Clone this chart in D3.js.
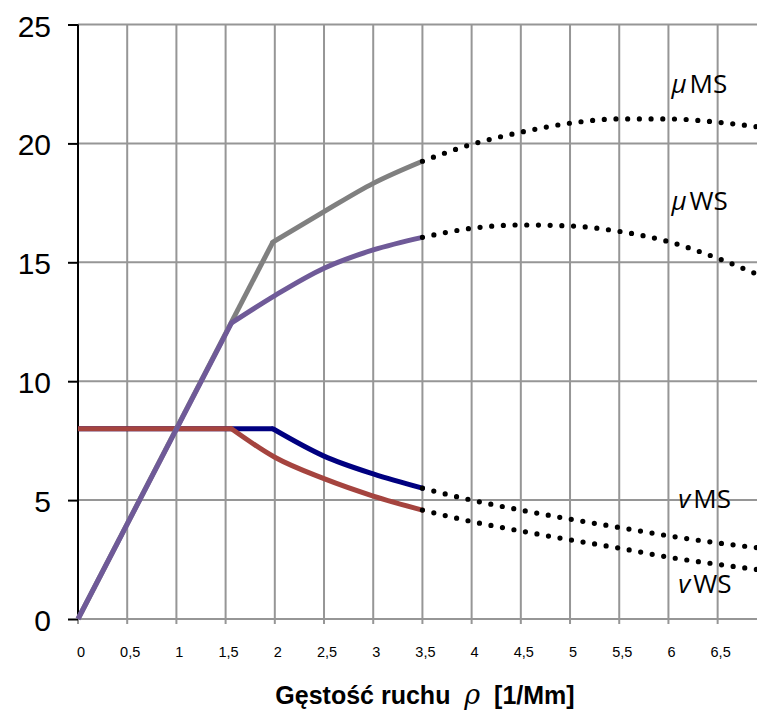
<!DOCTYPE html>
<html><head><meta charset="utf-8">
<script src="https://cdn.jsdelivr.net/npm/d3@7"></script>
<style>body{margin:0;background:#fff}svg{display:block}</style>
</head><body>
<svg id="chart" width="757" height="711"></svg>
<script>
// ---- data ----
const xTicks = [0,0.5,1,1.5,2,2.5,3,3.5,4,4.5,5,5.5,6,6.5];
const xTickLabels = ["0","0,5","1","1,5","2","2,5","3","3,5","4","4,5","5","5,5","6","6,5"];
const yTicks = [0,5,10,15,20,25];

// mu MS (grey)
const muMS_linear = [[0,0],[1.98,15.85]];
const muMS_curve  = [[1.98,15.85],[2.5,17.13],[3,18.32],[3.5,19.25]];
const muMS_dotted = [[3.5,19.25],[4,19.96],[4.5,20.47],[5,20.85],[5.5,21.03],[6,21.03],[6.5,20.89],[6.9,20.7]];
// mu WS (purple)
const muWS_linear = [[0,0],[1.56,12.45]];
const muWS_curve  = [[1.56,12.45],[2,13.6],[2.5,14.75],[3,15.52],[3.5,16.05]];
const muWS_dotted = [[3.5,16.05],[4,16.43],[4.5,16.57],[5,16.53],[5.5,16.3],[6,15.87],[6.5,15.17],[6.9,14.5]];
// v MS (navy)
const vMS_linear = [[0,8],[1.98,8]];
const vMS_curve  = [[1.98,8],[2.5,6.85],[3,6.1],[3.5,5.5]];
const vMS_dotted = [[3.5,5.5],[4,5.0],[4.5,4.58],[5,4.2],[5.5,3.85],[6,3.5],[6.5,3.2],[6.9,3.0]];
// v WS (red)
const vWS_linear = [[0,8],[1.56,8]];
const vWS_curve  = [[1.56,8],[2,6.8],[2.5,5.9],[3,5.17],[3.5,4.58]];
const vWS_dotted = [[3.5,4.58],[4,4.1],[4.5,3.7],[5,3.33],[5.5,2.98],[6,2.6],[6.5,2.3],[6.9,2.08]];

const seriesLabels = [
  {sym:"v", name:"MS", x:6.1, y:4.65},
  {sym:"v", name:"WS", x:6.1, y:1.08},
  {sym:"μ", name:"MS", x:6.03, y:22.13},
  {sym:"μ", name:"WS", x:6.03, y:17.2}
];

// ---- drawing ----
const svg = d3.select("#chart");
const x = d3.scaleLinear().domain([0,6.9]).range([78,757]);
const y = d3.scaleLinear().domain([0,25]).range([619,24.5]);
const gridColor = "#969696";

// vertical gridlines
svg.append("g").selectAll("line").data(xTicks.filter(d=>d>0)).join("line")
  .attr("x1",d=>x(d)).attr("x2",d=>x(d)).attr("y1",y(25)).attr("y2",y(0)+5)
  .attr("stroke",gridColor).attr("stroke-width",2);
svg.append("line").attr("x1",x(0)).attr("x2",x(0)).attr("y1",y(0)).attr("y2",y(0)+5)
  .attr("stroke",gridColor).attr("stroke-width",2);
// horizontal gridlines
svg.append("g").selectAll("line").data(yTicks).join("line")
  .attr("x1",x(0)).attr("x2",757).attr("y1",d=>y(d)).attr("y2",d=>y(d))
  .attr("stroke",gridColor).attr("stroke-width",2);

// y axis
const yAxis = d3.axisLeft(y).tickValues(yTicks).tickSize(10).tickFormat(d3.format("d"));
const gy = svg.append("g").attr("transform",`translate(${x(0)},0)`).call(yAxis);
gy.select(".domain").attr("stroke","#000").attr("stroke-width",2).attr("d",`M0,${y(25)}V${y(0)}`);
gy.selectAll(".tick line").attr("stroke","#000").attr("stroke-width",2);
gy.selectAll(".tick text").attr("font-family","'Liberation Sans', Arial, sans-serif")
  .attr("font-size",30).attr("fill","#000").attr("x",-27).attr("dy",null).attr("y",11.5);

// x tick labels
svg.append("g").selectAll("text").data(xTicks).join("text")
  .attr("x",d=>x(d)+3).attr("y",657).attr("text-anchor","middle")
  .attr("font-family","'Liberation Sans', Arial, sans-serif").attr("font-size",14.5)
  .text((d,i)=>xTickLabels[i]);

// x title
const title = svg.append("text").attr("x",425).attr("y",704).attr("text-anchor","middle")
  .style("white-space","pre")
  .attr("font-family","'Liberation Sans', Arial, sans-serif").attr("font-size",25).attr("font-weight","bold");
title.append("tspan").text("Gęstość ruchu  ");
title.append("tspan").attr("font-style","italic").attr("font-weight","normal").attr("font-size",27)
  .attr("font-family","'DejaVu Serif', serif").text("ρ");
title.append("tspan").text("  [1/Mm]");

// lines
const lineLin = d3.line().x(d=>x(d[0])).y(d=>y(d[1]));
const lineCurve = d3.line().x(d=>x(d[0])).y(d=>y(d[1])).curve(d3.curveMonotoneX);

const solids = [
  {lin:vMS_linear, cur:vMS_curve, color:"#000080"},
  {lin:vWS_linear, cur:vWS_curve, color:"#A5443F"},
  {lin:muMS_linear, cur:muMS_curve, color:"#808080"},
  {lin:muWS_linear, cur:muWS_curve, color:"#6F5A98"}
];
solids.forEach(s=>{
  svg.append("path").attr("d",lineLin(s.lin)).attr("fill","none").attr("stroke",s.color)
    .attr("stroke-width",5).attr("stroke-linejoin","round");
  svg.append("path").attr("d",lineCurve(s.cur)).attr("fill","none").attr("stroke",s.color)
    .attr("stroke-width",5).attr("stroke-linejoin","round").attr("stroke-linecap","round");
});
[muMS_dotted, muWS_dotted, vMS_dotted, vWS_dotted].forEach(dd=>{
  svg.append("path").attr("d",lineCurve(dd)).attr("fill","none").attr("stroke","#000")
    .attr("stroke-width",5.2).attr("stroke-linecap","round").attr("stroke-dasharray","0 11.7");
});

// series labels
seriesLabels.forEach(l=>{
  const t = svg.append("text").attr("x",x(l.x)).attr("y",y(l.y))
    .attr("font-family","'Open Sans', 'Noto Sans', sans-serif").attr("font-size",26).attr("fill","#000");
  t.append("tspan").attr("font-style","italic").text(l.sym);
  t.append("tspan").attr("dx",3).text(l.name);
});
</script>
</body></html>
